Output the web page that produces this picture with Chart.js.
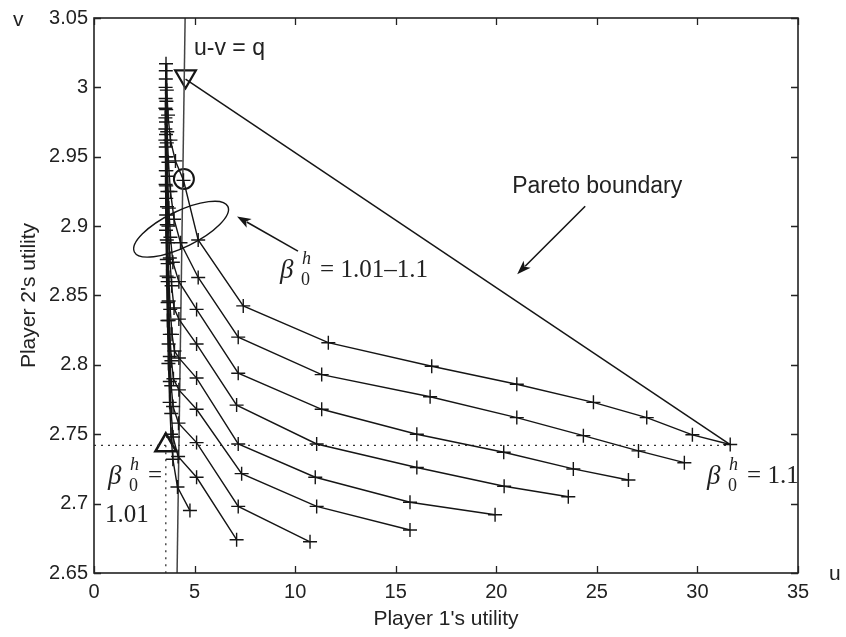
<!DOCTYPE html>
<html>
<head>
<meta charset="utf-8">
<script src="https://cdn.jsdelivr.net/npm/chart.js@4.4.1/dist/chart.umd.min.js"></script>
<style>
  html, body { margin: 0; padding: 0; background: #fff; }
  #wrap { width: 846px; height: 637px; }
</style>
</head>
<body>
<div id="wrap"><canvas id="paretoChart" width="846" height="637"></canvas></div>
<script>
// axis ticks
const xTicks = [0, 5, 10, 15, 20, 25, 30, 35];
const yTicks = [2.65, 2.7, 2.75, 2.8, 2.85, 2.9, 2.95, 3, 3.05];
const yTickLabels = ['2.65', '2.7', '2.75', '2.8', '2.85', '2.9', '2.95', '3', '3.05'];

// curves (player 1 utility u, player 2 utility v)
const c1U = [3.58, 3.62, 3.68, 3.80, 4.05, 4.45, 5.18, 7.42, 11.65, 16.79, 21.02, 24.83, 27.48, 29.75, 31.63];
const c1V = [3.017, 2.998, 2.980, 2.962, 2.947, 2.933, 2.890, 2.8425, 2.816, 2.799, 2.786, 2.773, 2.762, 2.7496, 2.7426];
const c2U = [3.57, 3.60, 3.64, 3.70, 3.80, 3.98, 4.30, 5.18, 7.17, 11.32, 16.71, 21.02, 24.33, 27.07, 29.35];
const c2V = [3.012, 2.990, 2.968, 2.946, 2.925, 2.905, 2.888, 2.863, 2.820, 2.793, 2.777, 2.762, 2.749, 2.738, 2.7295];
const c3U = [3.57, 3.59, 3.62, 3.66, 3.72, 3.80, 3.92, 4.22, 5.10, 7.17, 11.32, 16.05, 20.37, 23.83, 26.57];
const c3V = [3.006, 2.984, 2.960, 2.936, 2.913, 2.892, 2.874, 2.860, 2.840, 2.794, 2.768, 2.750, 2.737, 2.725, 2.717];
const c4U = [3.56, 3.58, 3.61, 3.65, 3.70, 3.77, 3.86, 3.98, 4.22, 5.10, 7.09, 11.07, 16.05, 20.39, 23.58];
const c4V = [3.000, 2.975, 2.950, 2.925, 2.900, 2.877, 2.857, 2.841, 2.833, 2.815, 2.771, 2.743, 2.726, 2.7125, 2.705];
const c5U = [3.56, 3.58, 3.60, 3.63, 3.67, 3.72, 3.79, 3.88, 4.00, 4.22, 5.10, 7.17, 11.00, 15.71, 19.94];
const c5V = [2.992, 2.966, 2.940, 2.914, 2.888, 2.863, 2.840, 2.822, 2.810, 2.805, 2.7905, 2.743, 2.719, 2.701, 2.692];
const c6U = [3.55, 3.57, 3.59, 3.62, 3.66, 3.71, 3.77, 3.85, 3.95, 4.22, 5.10, 7.34, 11.07, 15.71];
const c6V = [2.985, 2.957, 2.929, 2.901, 2.873, 2.846, 2.822, 2.803, 2.790, 2.782, 2.768, 2.7216, 2.698, 2.681];
const c7U = [3.55, 3.57, 3.59, 3.62, 3.66, 3.71, 3.77, 3.84, 3.93, 4.20, 5.10, 7.17, 10.74];
const c7V = [2.978, 2.950, 2.920, 2.890, 2.860, 2.832, 2.806, 2.785, 2.770, 2.758, 2.744, 2.698, 2.6725];
const c8U = [3.55, 3.57, 3.59, 3.62, 3.66, 3.71, 3.77, 3.84, 3.93, 4.18, 5.10, 7.09];
const c8V = [2.970, 2.940, 2.908, 2.876, 2.845, 2.815, 2.788, 2.765, 2.748, 2.734, 2.719, 2.674];
const c9U = [3.55, 3.56, 3.58, 3.61, 3.65, 3.70, 3.76, 3.83, 3.92, 4.15, 4.77];
const c9V = [2.962, 2.930, 2.897, 2.864, 2.832, 2.801, 2.773, 2.750, 2.732, 2.712, 2.695];

// pareto boundary, u-v=q line, dotted guides
const paretoU = [4.55, 31.63];
const paretoV = [3.006, 2.7426];
const qLineU = [4.53, 4.13];
const qLineV = [3.05, 2.65];
const hGuideU = [0, 31.63];
const hGuideV = [2.742, 2.742];
const vGuideU = [3.57, 3.57];
const vGuideV = [2.742, 2.65];

// special points
const downTriU = [4.55];
const downTriV = [3.008];
const circleU = [4.47];
const circleV = [2.934];
const upTriU = [3.57];
const upTriV = [2.742];

const curvesU = [c1U, c2U, c3U, c4U, c5U, c6U, c7U, c8U, c9U];
const curvesV = [c1V, c2V, c3V, c4V, c5V, c6V, c7V, c8V, c9V];

function pts(us, vs) {
    return us.map((u, i) => ({ x: u, y: vs[i] }));
}

const INK = '#151515';

const datasets = [];
curvesU.forEach((us, i) => {
    datasets.push({
        data: pts(us, curvesV[i]),
        showLine: true,
        borderColor: INK,
        borderWidth: 1.4,
        pointStyle: 'cross',
        pointRadius: 7,
        pointBorderWidth: 1.4,
        pointBorderColor: INK
    });
});
datasets.push({
    data: pts(paretoU, paretoV), showLine: true,
    borderColor: INK, borderWidth: 1.5, pointRadius: 0
});
datasets.push({
    data: pts(qLineU, qLineV), showLine: true,
    borderColor: '#444', borderWidth: 1.5, pointRadius: 0
});
datasets.push({
    data: pts(hGuideU, hGuideV), showLine: true,
    borderColor: '#333', borderWidth: 1.3, borderDash: [2, 5], pointRadius: 0
});
datasets.push({
    data: pts(vGuideU, vGuideV), showLine: true,
    borderColor: '#333', borderWidth: 1.3, borderDash: [2, 5], pointRadius: 0
});
datasets.push({
    data: pts(downTriU, downTriV),
    pointStyle: 'triangle', rotation: 180, pointRadius: 12,
    pointBorderWidth: 2.2, pointBorderColor: INK, pointBackgroundColor: 'rgba(0,0,0,0)'
});
datasets.push({
    data: pts(circleU, circleV),
    pointStyle: 'circle', pointRadius: 10,
    pointBorderWidth: 2, pointBorderColor: INK, pointBackgroundColor: 'rgba(0,0,0,0)'
});
datasets.push({
    data: pts(upTriU, upTriV),
    pointStyle: 'triangle', pointRadius: 12,
    pointBorderWidth: 2.5, pointBorderColor: INK, pointBackgroundColor: 'rgba(0,0,0,0)'
});

// annotation helpers
function arrow(ctx, x0, y0, x1, y1) {
    const ang = Math.atan2(y1 - y0, x1 - x0);
    const len = 14, half = 5;
    ctx.beginPath();
    ctx.moveTo(x0, y0);
    ctx.lineTo(x1 - Math.cos(ang) * len * 0.8, y1 - Math.sin(ang) * len * 0.8);
    ctx.stroke();
    ctx.beginPath();
    ctx.moveTo(x1, y1);
    ctx.lineTo(x1 - Math.cos(ang) * len - Math.sin(ang) * half, y1 - Math.sin(ang) * len + Math.cos(ang) * half);
    ctx.lineTo(x1 - Math.cos(ang) * len * 0.75, y1 - Math.sin(ang) * len * 0.75);
    ctx.lineTo(x1 - Math.cos(ang) * len + Math.sin(ang) * half, y1 - Math.sin(ang) * len - Math.cos(ang) * half);
    ctx.closePath();
    ctx.fill();
}

function betaLabel(ctx, x, y, rest) {
    ctx.textAlign = 'left';
    ctx.textBaseline = 'middle';
    ctx.font = 'italic 27px "Liberation Serif"';
    ctx.fillText('\u03B2', x, y);
    ctx.font = 'italic 18px "Liberation Serif"';
    ctx.fillText('h', x + 22, y - 12);
    ctx.font = '18px "Liberation Serif"';
    ctx.fillText('0', x + 21, y + 9);
    ctx.font = '25px "Liberation Serif"';
    ctx.fillText(rest, x + 40, y - 1);
}

const framePlugin = {
    id: 'frame',
    afterDatasetsDraw(chart) {
        const { ctx, chartArea: a, scales: { x, y } } = chart;
        ctx.save();
        ctx.strokeStyle = '#222';
        ctx.lineWidth = 1.6;
        ctx.strokeRect(a.left, a.top, a.right - a.left, a.bottom - a.top);
        ctx.lineWidth = 1.3;
        ctx.beginPath();
        xTicks.forEach(t => {
            const px = Math.round(x.getPixelForValue(t)) + 0.5;
            ctx.moveTo(px, a.bottom); ctx.lineTo(px, a.bottom - 7);
            ctx.moveTo(px, a.top); ctx.lineTo(px, a.top + 7);
        });
        yTicks.forEach(t => {
            const py = Math.round(y.getPixelForValue(t)) + 0.5;
            ctx.moveTo(a.left, py); ctx.lineTo(a.left + 7, py);
            ctx.moveTo(a.right, py); ctx.lineTo(a.right - 7, py);
        });
        ctx.stroke();

        // ellipse around the beta = 1.01-1.1 points
        ctx.strokeStyle = INK;
        ctx.lineWidth = 1.4;
        ctx.beginPath();
        ctx.ellipse(x.getPixelForValue(4.33), y.getPixelForValue(2.8978), 52, 18, -26 * Math.PI / 180, 0, Math.PI * 2);
        ctx.stroke();

        // arrows
        ctx.fillStyle = INK;
        ctx.lineWidth = 1.6;
        arrow(ctx, x.getPixelForValue(10.14), y.getPixelForValue(2.882), x.getPixelForValue(7.11), y.getPixelForValue(2.907));
        arrow(ctx, x.getPixelForValue(24.42), y.getPixelForValue(2.9143), x.getPixelForValue(21.04), y.getPixelForValue(2.8654));

        // text labels
        ctx.fillStyle = '#222';
        ctx.textAlign = 'left';
        ctx.textBaseline = 'middle';
        ctx.font = '23px "Liberation Sans"';
        ctx.fillText('u-v = q', x.getPixelForValue(4.97), y.getPixelForValue(3.0277));
        ctx.fillText('Pareto boundary', x.getPixelForValue(20.79), y.getPixelForValue(2.9286));

        betaLabel(ctx, x.getPixelForValue(9.25), y.getPixelForValue(2.8676), '= 1.01\u20131.1');
        betaLabel(ctx, x.getPixelForValue(30.48), y.getPixelForValue(2.719), '= 1.1');
        betaLabel(ctx, x.getPixelForValue(0.70), y.getPixelForValue(2.719), '=');
        ctx.font = '25px "Liberation Serif"';
        ctx.fillText('1.01', x.getPixelForValue(0.55), y.getPixelForValue(2.6917));

        // axis letters
        ctx.font = '21px "Liberation Sans"';
        ctx.fillText('v', 13, 20);
        ctx.fillText('u', 829, 574);
        ctx.restore();
    }
};

const tickFont = { family: '"Liberation Sans", Arial, sans-serif', size: 20 };
const titleFont = { family: '"Liberation Sans", Arial, sans-serif', size: 21 };

new Chart(document.getElementById('paretoChart').getContext('2d'), {
    type: 'scatter',
    data: { datasets: datasets },
    options: {
        responsive: false,
        animation: false,
        events: [],
        layout: { padding: { top: 16, right: 48, left: 0, bottom: 0 } },
        plugins: {
            legend: { display: false },
            tooltip: { enabled: false }
        },
        scales: {
            x: {
                min: 0,
                max: 35,
                afterBuildTicks: scale => { scale.ticks = xTicks.map(v => ({ value: v })); },
                afterFit: scale => { scale.height = 64; },
                grid: { display: false, drawTicks: false },
                border: { display: false },
                ticks: { color: '#222', font: tickFont, padding: 7, maxRotation: 0 },
                title: { display: true, text: "Player 1's utility", color: '#222', font: titleFont, padding: { top: 0, bottom: 5 } }
            },
            y: {
                min: 2.65,
                max: 3.05,
                afterBuildTicks: scale => { scale.ticks = yTicks.map(v => ({ value: v })); },
                afterFit: scale => { scale.width = 94; },
                grid: { display: false, drawTicks: false },
                border: { display: false },
                ticks: {
                    color: '#222',
                    font: tickFont,
                    padding: 6,
                    callback: (val, idx) => yTickLabels[idx]
                },
                title: { display: true, text: "Player 2's utility", color: '#222', font: titleFont, padding: { top: 17, bottom: 0 } }
            }
        }
    },
    plugins: [framePlugin]
});
</script>
</body>
</html>
